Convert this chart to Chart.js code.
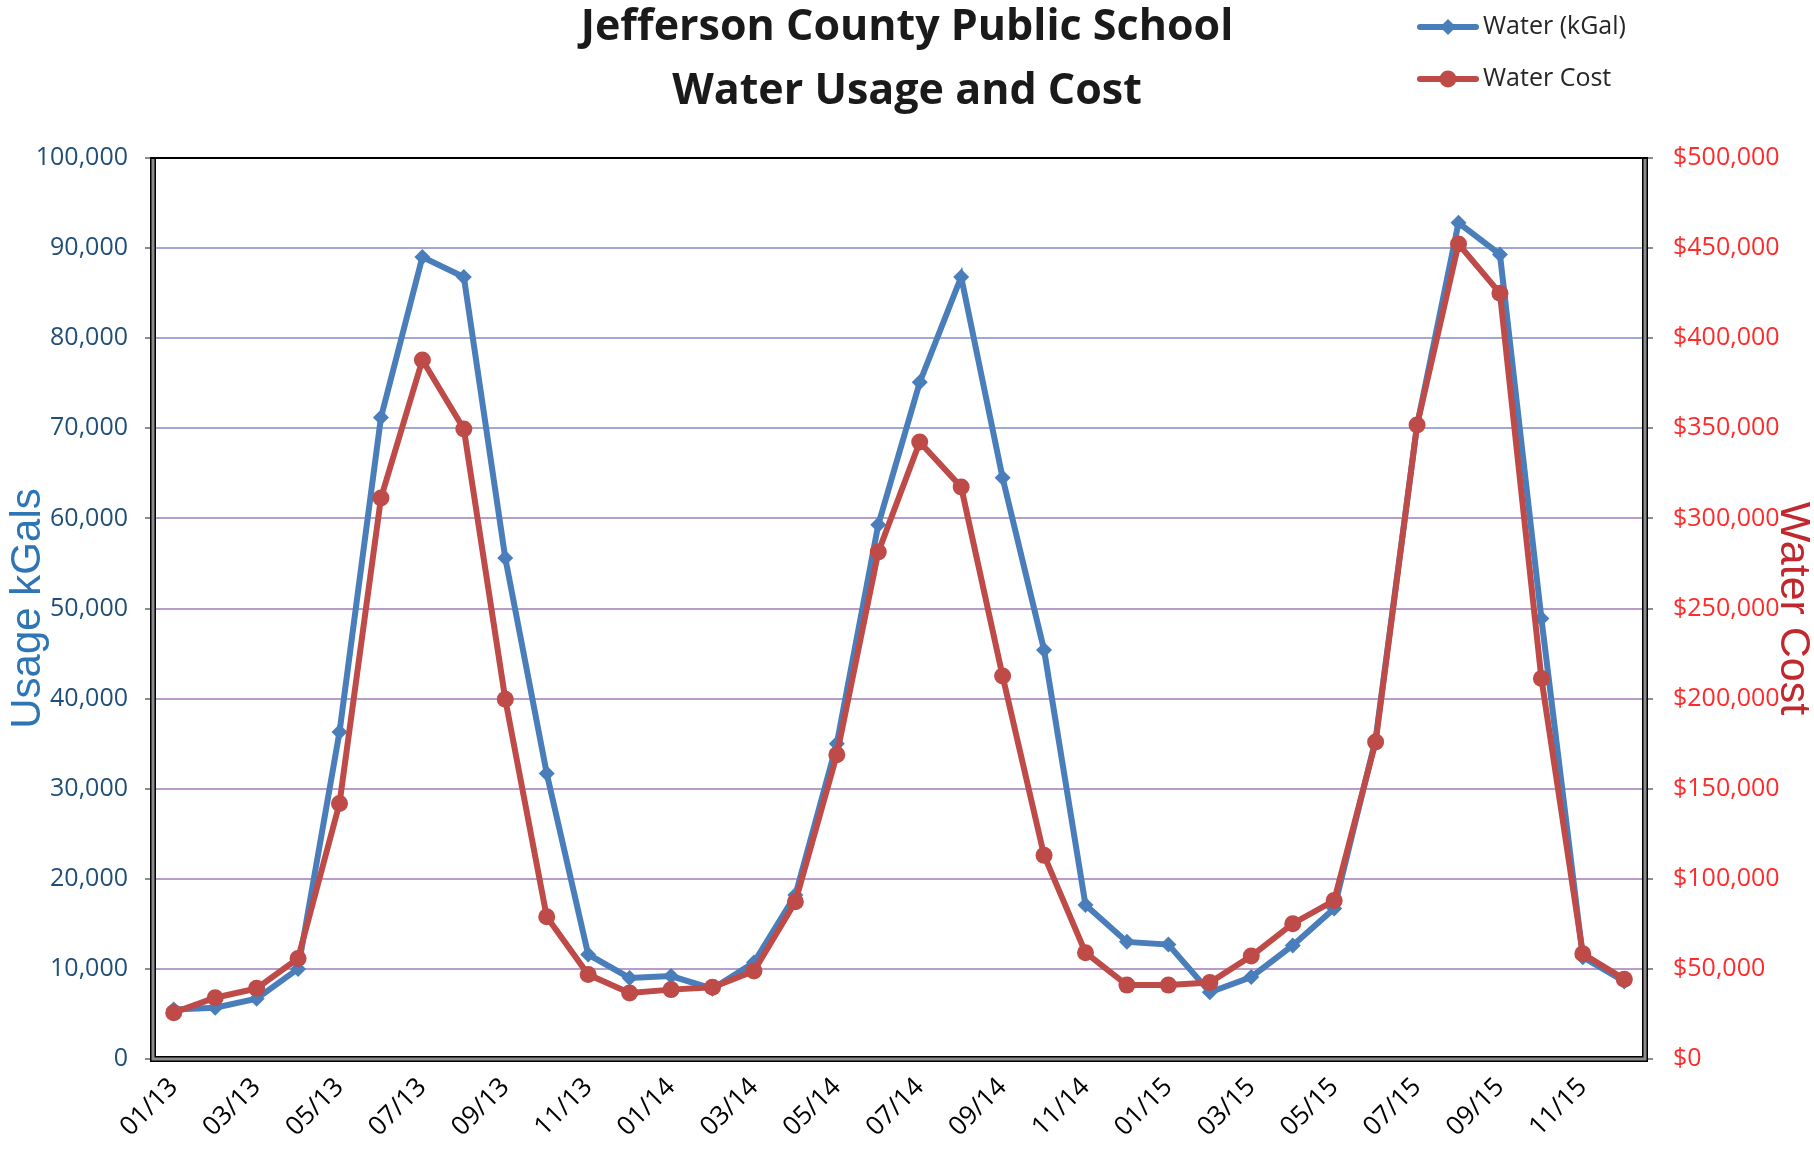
<!DOCTYPE html>
<html>
<head>
<meta charset="utf-8">
<script src="https://cdn.jsdelivr.net/npm/chart.js@4"></script>
<style>
  html, body { margin: 0; padding: 0; background: #fff; }
  #wrap { width: 1814px; height: 1149px; }
</style>
</head>
<body>
<div id="wrap"><canvas id="myChart" width="1814" height="1149"></canvas></div>
<script>
const months = [
  "01/13", "02/13", "03/13", "04/13", "05/13", "06/13", "07/13", "08/13", "09/13", "10/13", "11/13", "12/13",
  "01/14", "02/14", "03/14", "04/14", "05/14", "06/14", "07/14", "08/14", "09/14", "10/14", "11/14", "12/14",
  "01/15", "02/15", "03/15", "04/15", "05/15", "06/15", "07/15", "08/15", "09/15", "10/15", "11/15", "12/15",
];

const waterKGal = [
  5500, 5700, 6700, 10000, 36300, 71200, 89000, 86800, 55600, 31700, 11600, 9000,
  9200, 7800, 10700, 18200, 35000, 59300, 75100, 86800, 64500, 45400, 17100, 13000,
  12700, 7400, 9100, 12600, 16700, 35500, 70300, 92800, 89300, 48900, 11300, 8600,
];

const waterCost = [
  25700, 34000, 39200, 55800, 141800, 311300, 387900, 349600, 199600, 78900, 46900, 36600,
  38500, 39800, 48800, 87300, 168800, 281300, 342400, 317400, 212500, 113000, 59000, 41000,
  41000, 42400, 57100, 75100, 87900, 175900, 351800, 452300, 425000, 211200, 58400, 44300,
];

// tick steps for the two y axes
const usageTicks = { min: 0, max: 100000, step: 10000 };
const costTicks = { min: 0, max: 500000, step: 50000 };

const blue = "#4a7ebb";
const red = "#be4b48";
const tickFont = { family: "Open Sans", size: 25 };

// legend drawn by hand, stacked in the top right corner
const cornerLegend = {
  id: "cornerLegend",
  afterDraw(chart) {
    const ctx = chart.ctx;
    const items = [
      { text: "Water (kGal)", color: blue, style: "diamond", y: 27 },
      { text: "Water Cost", color: red, style: "circle", y: 79 },
    ];
    ctx.save();
    items.forEach(function (item) {
      ctx.strokeStyle = item.color;
      ctx.fillStyle = item.color;
      ctx.lineWidth = 6;
      ctx.lineCap = "round";
      ctx.beginPath();
      ctx.moveTo(1420, item.y);
      ctx.lineTo(1476, item.y);
      ctx.stroke();
      ctx.beginPath();
      if (item.style === "diamond") {
        ctx.moveTo(1448, item.y - 8);
        ctx.lineTo(1456, item.y);
        ctx.lineTo(1448, item.y + 8);
        ctx.lineTo(1440, item.y);
        ctx.closePath();
      } else {
        ctx.arc(1448, item.y, 8.5, 0, Math.PI * 2);
      }
      ctx.fill();
      ctx.fillStyle = "#262626";
      ctx.font = "25px 'Open Sans'";
      ctx.textBaseline = "middle";
      ctx.textAlign = "left";
      ctx.fillText(item.text, 1483, item.y);
    });
    ctx.restore();
  },
};

// heavy excel style frame around the plot area
const plotFrame = {
  id: "plotFrame",
  beforeDatasetsDraw(chart) {
    const a = chart.chartArea;
    const ctx = chart.ctx;
    ctx.save();
    ctx.strokeStyle = "#000";
    ctx.lineWidth = 6;
    ctx.beginPath();
    ctx.moveTo(a.left, a.top);
    ctx.lineTo(a.left, a.bottom);
    ctx.lineTo(a.right, a.bottom);
    ctx.lineTo(a.right, a.top);
    ctx.stroke();
    ctx.strokeStyle = "#8c8c8c";
    ctx.lineWidth = 3;
    ctx.stroke();
    ctx.strokeStyle = "#000";
    ctx.lineWidth = 2;
    ctx.beginPath();
    ctx.moveTo(a.left - 3, a.top);
    ctx.lineTo(a.right + 3, a.top);
    ctx.stroke();
    ctx.restore();
  },
};

const data = {
  labels: months,
  datasets: [
    {
      label: "Water (kGal)",
      data: waterKGal,
      yAxisID: "y",
      borderColor: blue,
      backgroundColor: blue,
      borderWidth: 6,
      pointStyle: "rectRot",
      pointRadius: 8,
      pointBorderWidth: 0,
      tension: 0,
      order: 2,
    },
    {
      label: "Water Cost",
      data: waterCost,
      yAxisID: "y1",
      borderColor: red,
      backgroundColor: red,
      borderWidth: 6,
      pointStyle: "circle",
      pointRadius: 8.5,
      pointBorderWidth: 0,
      tension: 0,
      order: 1,
    },
  ],
};

const config = {
  type: "line",
  data,
  options: {
    responsive: false,
    animation: false,
    layout: { padding: 0 },
    plugins: {
      legend: { display: false },
      tooltip: { enabled: false },
      title: {
        display: true,
        text: ["Jefferson County Public School", "Water Usage and Cost"],
        color: "#1a1a1a",
        font: { family: "Open Sans", size: 43, weight: "bold", lineHeight: 1.5 },
        padding: { top: -5, bottom: 34 },
      },
    },
    scales: {
      x: {
        offset: true,
        grid: { display: false, drawTicks: false },
        border: { display: false },
        ticks: {
          autoSkip: false,
          maxRotation: 45,
          minRotation: 45,
          color: "#000",
          font: { family: "Open Sans", size: 26 },
          padding: 13,
          callback: function (value, index) {
            return index % 2 === 0 ? months[index] : "";
          },
        },
        afterFit: function (scale) {
          scale.height = 90;
        },
      },
      y: {
        position: "left",
        min: usageTicks.min,
        max: usageTicks.max,
        border: { display: false },
        grid: {
          color: function (c) {
            return c.tick && c.tick.value <= 60000 ? "#b89ccb" : "#9ea9da";
          },
          lineWidth: 2,
          tickColor: "#8c8c8c",
          tickLength: 8,
        },
        ticks: {
          stepSize: usageTicks.step,
          color: "#1f4e79",
          font: tickFont,
          padding: 17,
          callback: function (v) {
            return v.toLocaleString("en-US");
          },
        },
        title: {
          display: true,
          text: "Usage kGals",
          color: "#2e75b6",
          font: { family: "Liberation Sans", size: 42, lineHeight: 1.1 },
          padding: { top: 5, bottom: 0 },
        },
        afterFit: function (scale) {
          scale.width = 153;
        },
      },
      y1: {
        position: "right",
        min: costTicks.min,
        max: costTicks.max,
        border: { display: false },
        grid: {
          drawOnChartArea: false,
          tickColor: "#8c8c8c",
          tickLength: 8,
          lineWidth: 2,
        },
        ticks: {
          stepSize: costTicks.step,
          color: "#ff2a2a",
          font: tickFont,
          padding: 20,
          callback: function (v) {
            return "$" + v.toLocaleString("en-US");
          },
        },
        title: {
          display: true,
          text: "Water Cost",
          color: "#c0282d",
          font: { family: "Liberation Sans", size: 43, lineHeight: 1 },
          padding: 0,
        },
        afterFit: function (scale) {
          scale.width = 169;
        },
      },
    },
  },
  plugins: [plotFrame, cornerLegend],
};

const myChart = new Chart(document.getElementById("myChart"), config);
</script>
</body>
</html>
